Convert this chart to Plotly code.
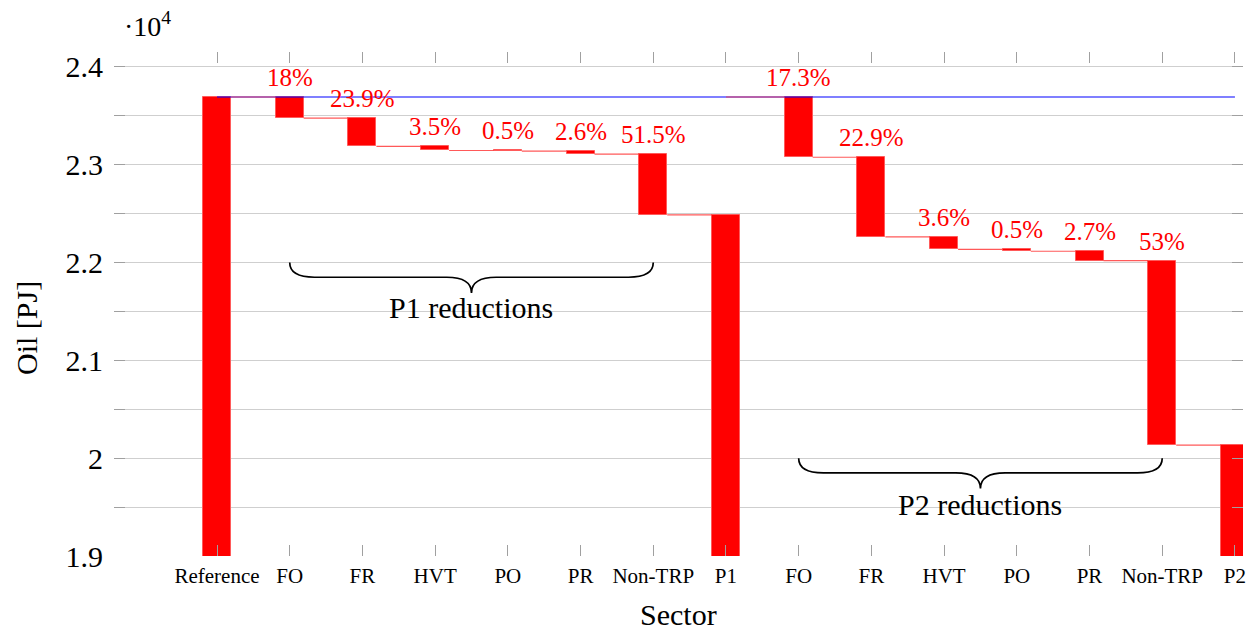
import plotly.graph_objects as go

# ---------------- data ----------------
categories = ["Reference", "FO", "FR", "HVT", "PO", "PR", "Non-TRP", "P1",
              "FO", "FR", "HVT", "PO", "PR", "Non-TRP", "P2"]
reference_oil = 23693          # PJ
p1_reductions = [217, 288, 42, 6, 31, 621]     # PJ
p1_shares = ["18%", "23.9%", "3.5%", "0.5%", "2.6%", "51.5%"]
p2_reductions = [616, 815, 128, 18, 96, 1886]  # PJ
p2_shares = ["17.3%", "22.9%", "3.6%", "0.5%", "2.7%", "53%"]
y_tick_vals = [19000, 20000, 21000, 22000, 23000, 24000]
y_tick_text = ["1.9", "2", "2.1", "2.2", "2.3", "2.4"]

# ---------------- build waterfall geometry ----------------
W = 0.385
xs = list(range(len(categories)))
bases, heights, labels = [], [], []
conn_x, conn_y = [], []

def seg(x0, x1, y):
    conn_x.extend([x0, x1, None])
    conn_y.extend([y, y, None])

bases.append(0); heights.append(reference_oil)
seg(0 + W / 2, 1 - W / 2, reference_oil)

level = reference_oil
x = 1
for r, s in zip(p1_reductions, p1_shares):
    top = level
    level = level - r
    bases.append(level); heights.append(r)
    labels.append((x, top, s))
    seg(x + W / 2, x + 1 - W / 2, level)
    x += 1
p1_total = level
bases.append(0); heights.append(p1_total)
seg(x, x + 1 - W / 2, reference_oil)
x += 1

level = reference_oil
for r, s in zip(p2_reductions, p2_shares):
    top = level
    level = level - r
    bases.append(level); heights.append(r)
    labels.append((x, top, s))
    seg(x + W / 2, x + 1 - W / 2, level)
    x += 1
p2_total = level
bases.append(0); heights.append(p2_total)

fig = go.Figure()

# reference level line (blue)
fig.add_trace(go.Scatter(x=[0, 14], y=[reference_oil, reference_oil], mode="lines",
                         line=dict(color="#0000ff", width=1.1), hoverinfo="skip",
                         showlegend=False))
fig.add_trace(go.Bar(x=xs, y=heights, base=bases, width=W,
                     marker=dict(color="#ff0000", line=dict(color="rgba(255,90,90,1)", width=1)),
                     showlegend=False))
fig.add_trace(go.Scatter(x=conn_x, y=conn_y, mode="lines",
                         line=dict(color="rgba(255,60,60,0.85)", width=1.2),
                         hoverinfo="skip", showlegend=False))

serif = "Liberation Serif, Times New Roman, serif"
for (lx, ly, s) in labels:
    fig.add_annotation(x=lx, y=ly, text=s, showarrow=False, yanchor="bottom",
                       yshift=4, font=dict(family=serif, size=25, color="#ff0000"))

# braces
def brace(x0, x1, ytop, depth_flat, depth_tip, dx):
    xm = (x0 + x1) / 2
    yf = ytop - depth_flat
    yt = ytop - depth_tip
    return (f"M {x0},{ytop} Q {x0},{yf} {x0+dx},{yf} L {xm-dx},{yf} "
            f"Q {xm},{yf} {xm},{yt} Q {xm},{yf} {xm+dx},{yf} L {x1-dx},{yf} "
            f"Q {x1},{yf} {x1},{ytop}")

fig.add_shape(type="path", path=brace(1, 6, 22000, 150, 310, 0.34),
              line=dict(color="black", width=1.7), layer="above")
fig.add_shape(type="path", path=brace(8, 13, 20000, 150, 310, 0.34),
              line=dict(color="black", width=1.7), layer="above")
fig.add_annotation(x=3.5, y=22000 - 460, text="P1 reductions", showarrow=False,
                   font=dict(family=serif, size=30, color="black"))
fig.add_annotation(x=10.5, y=20000 - 470, text="P2 reductions", showarrow=False,
                   font=dict(family=serif, size=30, color="black"))

# axis titles / multiplier
fig.add_annotation(xref="paper", yref="paper", x=(678 - 114) / 1129,
                   y=(556 - 614) / 504, text="Sector", showarrow=False,
                   xanchor="center", yanchor="middle",
                   font=dict(family=serif, size=30, color="black"))
fig.add_annotation(xref="paper", yref="paper", x=(26 - 114) / 1129, y=(556 - 328) / 504,
                   text="Oil [PJ]", textangle=-90, showarrow=False,
                   xanchor="center", yanchor="middle",
                   font=dict(family=serif, size=30, color="black"))
fig.add_annotation(xref="paper", yref="paper", x=(122 - 114) / 1129, y=(556 - 25) / 504,
                   text="·10<sup>4</sup>", showarrow=False, xanchor="left", yanchor="middle",
                   font=dict(family=serif, size=28, color="black"))

fig.update_layout(
    width=1255, height=631,
    margin=dict(l=114, r=12, t=52, b=75),
    plot_bgcolor="white", paper_bgcolor="white",
    bargap=0,
    xaxis=dict(range=[-1.4166, 14.111], tickmode="array", tickvals=xs, ticktext=categories,
               showgrid=False, zeroline=False, showline=False,
               ticks="inside", ticklen=11, tickcolor="#a0a0a0", tickwidth=1.2,
               mirror="ticks", automargin=False, ticklabelstandoff=5,
               tickfont=dict(family=serif, size=21, color="black")),
    yaxis=dict(range=[19000, 24153], tickmode="array", tickvals=y_tick_vals,
               ticktext=y_tick_text, showgrid=True, gridcolor="#cfcfcf", gridwidth=1.2,
               zeroline=False, showline=False,
               ticks="inside", ticklen=11, tickcolor="#a0a0a0", tickwidth=1.2,
               mirror="ticks", ticklabelstandoff=10, automargin=False,
               minor=dict(tick0=19500, dtick=1000, ticks="inside", ticklen=11,
                          tickcolor="#a0a0a0", tickwidth=1.2, showgrid=True,
                          gridcolor="#cfcfcf", gridwidth=1.2),
               tickfont=dict(family=serif, size=30, color="black")),
)

fig.write_html("out.html", config={"displayModeBar": False},
               post_script="document.body.style.margin='0';document.body.style.overflow='hidden';")
